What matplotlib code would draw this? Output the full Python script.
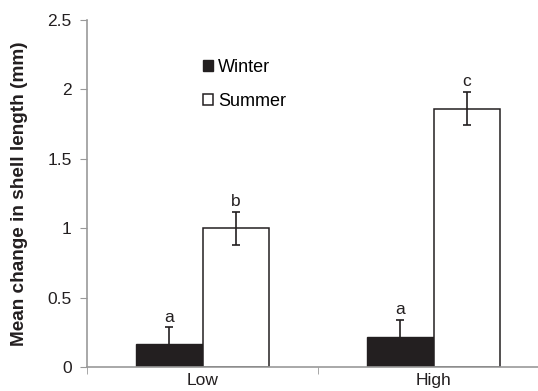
import numpy as np
import matplotlib.pyplot as plt

plt.rcParams['font.family'] = ['Liberation Sans', 'DejaVu Sans']

groups = ['Low', 'High']
winter = [0.166, 0.214]
winter_err = [0.12, 0.125]
summer = [1.0, 1.86]
summer_err = [0.12, 0.12]
winter_letters = ['a', 'a']
summer_letters = ['b', 'c']

fig = plt.figure(figsize=(5.38, 3.91), dpi=100)
ax = fig.add_axes([87 / 538, 24 / 391, 462 / 538, 347 / 391])

x = np.arange(len(groups))
w = 0.286
ink = '#231f20'
ax.bar(x - w / 2, winter, w, color=ink, edgecolor=ink, linewidth=1, label='Winter', zorder=2)
ax.bar(x + w / 2, summer, w, color='white', edgecolor=ink, linewidth=1.1, label='Summer', zorder=2)
ax.errorbar(x - w / 2, winter, yerr=winter_err, fmt='none', ecolor=ink, elinewidth=1.2,
            capsize=3, capthick=1.2, zorder=3)
ax.errorbar(x + w / 2, summer, yerr=summer_err, fmt='none', ecolor=ink, elinewidth=1.2,
            capsize=3, capthick=1.2, zorder=3)

for xi, v, e, t in zip(x - w / 2, winter, winter_err, winter_letters):
    ax.annotate(t, (xi, v + e), xytext=(0, 2), textcoords='offset points',
                ha='center', va='bottom', fontsize=12.5, color=ink)
for xi, v, e, t in zip(x + w / 2, summer, summer_err, summer_letters):
    ax.annotate(t, (xi, v + e), xytext=(0, 2), textcoords='offset points',
                ha='center', va='bottom', fontsize=12.5, color=ink)

ax.set_xlim(-0.5, 1.5)
ax.set_ylim(0, 2.5)
ax.set_yticks([0, 0.5, 1, 1.5, 2, 2.5])
ax.set_yticklabels(['0', '0.5', '1', '1.5', '2', '2.5'])
ax.set_xticks(x)
ax.set_xticklabels(groups)
ax.set_xticks([-0.5, 0.5, 1.5], minor=True)
ax.tick_params(axis='x', which='major', length=0, labelsize=12.5, pad=4, labelcolor=ink)
ax.tick_params(axis='x', which='minor', length=5, color='#999999', direction='out')
ax.tick_params(axis='y', length=5, color='#999999', labelsize=12.5, labelcolor=ink, pad=6)

for s in ['top', 'right']:
    ax.spines[s].set_visible(False)
for s in ['left', 'bottom']:
    ax.spines[s].set_color('#999999')
    ax.spines[s].set_linewidth(1.2)

ax.set_ylabel('Mean change in shell length (mm)', fontsize=13.7, fontweight='bold', color=ink, labelpad=14)

ax.legend(loc='upper left', bbox_to_anchor=(0.215, 0.935), frameon=False, fontsize=13,
          handlelength=0.55, handleheight=0.55, handletextpad=0.3, labelspacing=0.95)

fig.savefig('out.png', dpi=100)
